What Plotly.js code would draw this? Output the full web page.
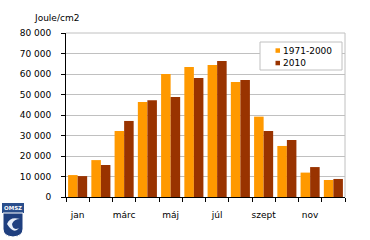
<!DOCTYPE html>
<html><head><meta charset="utf-8">
<script src="https://cdn.plot.ly/plotly-3.0.1.min.js"></script>
<style>html,body{margin:0;padding:0;background:#fff;}#c{width:370px;height:240px;}</style>
</head><body><div id="c"></div>
<script>
const months = ["jan","febr","márc","ápr","máj","jún","júl","aug","szept","okt","nov","dec"];
const tickLabels = ["jan","","márc","","máj","","júl","","szept","","nov",""];
const seriesNames = ["1971-2000","2010"];
const normal1971_2000 = [10700,18000,32200,46300,60000,63400,64400,56100,39200,24900,11900,8300];
const year2010 = [10200,15600,37100,47200,48800,58000,66300,57100,32200,27800,14600,8800];
const colors = ["#FF9900","#993300"];
const yTicks = [0,10000,20000,30000,40000,50000,60000,70000,80000];
const yTickText = ["0","10 000","20 000","30 000","40 000","50 000","60 000","70 000","80 000"];

const L=66, R=345, T=33, B=197;
const px = x => (x-L)/(R-L);
const py = y => (B-y)/(B-T);

const traces = [
  {type:'bar', x:months, y:normal1971_2000, name:seriesNames[0], marker:{color:colors[0]}, hoverinfo:'none'},
  {type:'bar', x:months, y:year2010, name:seriesNames[1], marker:{color:colors[1]}, hoverinfo:'none'}
];

const legendAnn = seriesNames.map((n,i)=>({text:n, xref:'paper', yref:'paper', x:px(280.5), y:py(50.5+12.5*i),
  xanchor:'left', yanchor:'middle', showarrow:false, font:{size:9}}));
const legendSq = colors.map((c,i)=>({type:'rect', xref:'paper', yref:'paper', x0:px(275.5), x1:px(280), y0:py(48.3+12.5*i), y1:py(52.8+12.5*i), line:{width:0}, fillcolor:c}));

const layout = {
  width:370, height:240,
  margin:{l:L, r:370-R, t:T, b:240-B, pad:0},
  paper_bgcolor:'#fff', plot_bgcolor:'#fff',
  font:{family:'DejaVu Sans', size:9, color:'#000'},
  barmode:'group', bargap:0.18, bargroupgap:0,
  showlegend:false,
  xaxis:{type:'category', categoryarray:months, tickvals:months, ticktext:tickLabels, tickangle:0,
    tickson:'boundaries', ticks:'outside', ticklen:4, tickcolor:'#000', tickwidth:1,
    showline:true, linecolor:'#000', linewidth:1, showgrid:false, zeroline:false,
    ticklabelstandoff:9, tickfont:{size:9}, fixedrange:true},
  yaxis:{range:[0,80000], tickvals:yTicks, ticktext:yTickText, ticks:'outside', ticklen:4,
    tickcolor:'#000', showline:true, linecolor:'#000', linewidth:1,
    showgrid:true, gridcolor:'#C0C0C0', gridwidth:1, zeroline:false,
    ticklabelstandoff:8, tickfont:{size:9}, fixedrange:true},
  annotations:[
    {text:'Joule/cm2', xref:'paper', yref:'paper', x:px(32), y:py(18), xanchor:'left', yanchor:'middle', showarrow:false, font:{size:9}},
    {text:'<b>OMSZ</b>', xref:'paper', yref:'paper', x:px(13), y:py(207.5), xanchor:'center', yanchor:'middle', showarrow:false, font:{size:5.5,color:'#fff'}}
  ].concat(legendAnn),
  shapes:[
    {type:'line', xref:'paper', yref:'paper', x0:0, x1:1, y0:1, y1:1, line:{color:'#C0C0C0', width:1}},
    {type:'line', xref:'paper', yref:'paper', x0:1, x1:1, y0:0, y1:1, line:{color:'#C0C0C0', width:1}},
    {type:'rect', xref:'paper', yref:'paper', x0:px(260), x1:px(342), y0:py(42), y1:py(70), line:{color:'#C0C0C0', width:1}, fillcolor:'#fff'},
    {type:'rect', xref:'paper', yref:'paper', x0:px(2), x1:px(24), y0:py(203), y1:py(213), line:{width:0}, fillcolor:'#2A4E8C'},
    {type:'path', xref:'paper', yref:'paper',
      path:'M '+px(3)+','+py(213)+' L '+px(23)+','+py(213)+' L '+px(23)+','+py(229)+' Q '+px(23)+','+py(236)+' '+px(13)+','+py(237)+' Q '+px(3)+','+py(236)+' '+px(3)+','+py(229)+' Z',
      line:{color:'#fff', width:1}, fillcolor:'#1F3F7F'},
    {type:'path', xref:'paper', yref:'paper',
      path:'M '+px(7)+','+py(224)+' Q '+px(10)+','+py(216)+' '+px(20)+','+py(219)+' Q '+px(14)+','+py(219)+' '+px(12)+','+py(224)+' Q '+px(13)+','+py(231)+' '+px(19)+','+py(228)+' Q '+px(14)+','+py(235)+' '+px(7)+','+py(224)+' Z',
      line:{width:0}, fillcolor:'#E8EEF8'}
  ].concat(legendSq)
};
Plotly.newPlot('c', traces, layout, {displayModeBar:false, staticPlot:true});
</script></body></html>
